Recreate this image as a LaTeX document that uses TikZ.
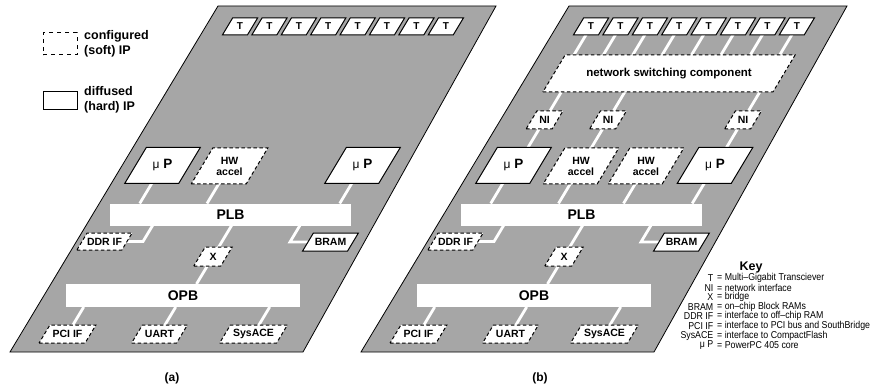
\documentclass[tikz,border=0pt]{standalone}
\usepackage{fontspec}
\setmainfont{Liberation Sans}
\newfontfamily\keyfont[FakeStretch=0.88]{Liberation Sans}
\usetikzlibrary{calc}
\pgfdeclarelayer{panel}
\pgfdeclarelayer{wires}
\pgfdeclarelayer{boxes}
\pgfsetlayers{panel,wires,boxes,main}
\definecolor{boardgray}{RGB}{166,166,166}
\newcommand\linkwire[2]{\draw[wire] let \p1=(#1), \p2=(#2) in (\p1) -- ({\x1-0.6*(\y1-\y2)},\y2);}
% \pbox[node options]{outline style}{name}{x}{y}{edge width}{height}{text}
\newcommand\pbox[8][]{%
  \node[boxtext,#1,minimum width=#6,minimum height=#7] (#3) at ({#4},{#5}) {#8};
  \begin{pgfonlayer}{boxes}
  \draw[#2] ([xshift={-0.3*#7}]#3.south west) -- ([xshift={-0.3*#7}]#3.south east)
     -- ([xshift={0.3*#7}]#3.north east) -- ([xshift={0.3*#7}]#3.north west) -- cycle;
  \end{pgfonlayer}}
\begin{document}
\begin{tikzpicture}[x=1pt,y=-1pt,
  boxtext/.style={inner sep=0pt, outer sep=0pt, align=center, font=\bfseries\fontsize{10.5}{11}\selectfont},
  hard/.style={draw=black, fill=white, line width=1pt, line join=miter},
  soft/.style={hard, dash pattern=on 3.5pt off 2.5pt},
  mup/.style={font=\bfseries\fontsize{13.5}{15}\selectfont},
  tfont/.style={font=\bfseries\fontsize{10}{10}\selectfont},
  bus/.style={fill=white, inner sep=0pt, outer sep=0pt, font=\bfseries\fontsize{14}{16}\selectfont},
  wire/.style={white, line width=2.8pt},
  board/.style={fill=boardgray, draw=black, line width=0.8pt},
  legtext/.style={anchor=west, align=left, inner sep=0pt, font=\bfseries\fontsize{12.5}{15}\selectfont},
  captext/.style={font=\bfseries\fontsize{12}{14}\selectfont},
  keyl/.style={anchor=east, inner sep=0pt, font=\keyfont\fontsize{10}{10}\selectfont},
  keyr/.style={anchor=west, inner sep=0pt, font=\keyfont\fontsize{10}{10}\selectfont},
]
\useasboundingbox (0,0) rectangle (872,390);

% boards
\begin{pgfonlayer}{panel}
\draw[board] (218,6) -- (496,6) -- (303,352) -- (10,352) -- cycle;
\draw[board] (569,6) -- (847,6) -- (654,352) -- (361,352) -- cycle;
\end{pgfonlayer}

% legend
\node[draw=black, line width=1pt, dash pattern=on 4pt off 4pt, minimum width=34, minimum height=22, inner sep=0pt] (softkey) at (60,44) {};
\node[legtext] (softtxt) at (84,44) {configured\\(soft) IP};
\node[draw=black, line width=1pt, minimum width=34, minimum height=18, inner sep=0pt] (hardkey) at (60,101) {};
\node[legtext] (hardtxt) at (84,100) {diffused\\(hard) IP};

% ---------------- panel (a)
\foreach \k in {0,...,7}{\pbox[tfont]{hard}{ta\k}{240+29.4*\k}{26.5}{25}{17}{T}}
\pbox[mup]{hard}{mua1}{162.5}{165.5}{54}{36}{{\mdseries\fontsize{12}{14}\selectfont μ} P}
\pbox{soft}{hwa}{229.5}{166}{55}{36}{HW\\accel}
\pbox[mup]{hard}{mua2}{362.5}{165.5}{54}{36}{{\mdseries\fontsize{12}{14}\selectfont μ} P}
\node[bus, minimum width=241, minimum height=22] (plba) at (230.5,214.5) {PLB};
\pbox{soft}{ddra}{104.5}{241.5}{45}{17}{DDR IF}
\pbox{hard}{brama}{330.5}{242}{45}{18}{BRAM}
\pbox{soft}{xa}{213}{256.5}{27}{19}{X}
\node[bus, minimum width=234, minimum height=23] (opba) at (183,295.5) {OPB};
\pbox{soft}{pcia}{67.5}{334}{46}{18}{PCI IF}
\pbox{soft}{uarta}{159.5}{334}{45}{18}{UART}
\pbox{soft}{sysa}{253.5}{334}{57}{18}{SysACE}

% ---------------- panel (b)
\foreach \k in {0,...,7}{\pbox[tfont]{hard}{tb\k}{591+29.4*\k}{26.5}{25}{17}{T}}
\pbox[font=\bfseries\fontsize{11.5}{12}\selectfont]{soft}{nsc}{669}{73.5}{230}{37}{network switching component}
\pbox{soft}{ni1}{544.5}{120}{26}{18}{NI}
\pbox{soft}{ni2}{608}{120}{26}{18}{NI}
\pbox{soft}{ni3}{743}{120}{26}{18}{NI}
\pbox[mup]{hard}{mub1}{513.5}{165.5}{54}{36}{{\mdseries\fontsize{12}{14}\selectfont μ} P}
\pbox{soft}{hwb1}{581}{166}{54}{36}{HW\\accel}
\pbox{soft}{hwb2}{646}{166}{54}{36}{HW\\accel}
\pbox[mup]{hard}{mub2}{715}{165.5}{54}{36}{{\mdseries\fontsize{12}{14}\selectfont μ} P}
\node[bus, minimum width=241, minimum height=22] (plbb) at (581.5,214.5) {PLB};
\pbox{soft}{ddrb}{455.5}{241.5}{45}{17}{DDR IF}
\pbox{hard}{bramb}{681.5}{242}{45}{18}{BRAM}
\pbox{soft}{xb}{564}{256.5}{27}{19}{X}
\node[bus, minimum width=234, minimum height=23] (opbb) at (534,295.5) {OPB};
\pbox{soft}{pcib}{418.5}{334}{46}{18}{PCI IF}
\pbox{soft}{uartb}{510.5}{334}{45}{18}{UART}
\pbox{soft}{sysb}{604.5}{334}{57}{18}{SysACE}

% captions
\node[captext] (capa) at (172,378) {(a)};
\node[captext] (capb) at (540,378) {(b)};

% key
\node[font=\bfseries\fontsize{12.5}{14}\selectfont, inner sep=0pt] (keyhead) at (751,267.5) {Key};
\foreach \lab/\txt [count=\i from 0] in {T/Multi–Gigabit Transciever, NI/network interface, X/bridge,
  BRAM/on–chip Block RAMs, DDR IF/interface to off–chip RAM, PCI IF/interface to PCI bus and SouthBridge,
  SysACE/interface to CompactFlash, μ P/PowerPC 405 core}{
  \node[keyl] (kl\i) at (713.5,{278+9.6*\i}) {\lab};
  \node[keyr] (kr\i) at (717,{278+9.6*\i}) {= \txt};
}

% wires (below the boxes; they start at box centres and leave through the middle of a side)
\begin{pgfonlayer}{wires}
\foreach \q in {mua1,hwa,mua2} {\linkwire{\q.center}{plba.north}}
\linkwire{xa.center}{plba.south}
\linkwire{xa.center}{opba.north}
\foreach \q in {pcia,uarta,sysa} {\linkwire{\q.center}{opba.south}}
\draw[wire] let \p1=(ddra.east), \p2=(plba.south) in (\p1) -- ++(16,0) -- ({\x1+16pt-0.6*(\y1-\y2)},\y2);
\draw[wire] let \p1=(brama.west), \p2=(plba.south) in (\p1) -- ++(-18,0) -- ({\x1-18pt-0.6*(\y1-\y2)},\y2);

\foreach \k in {0,...,7} {\linkwire{tb\k.center}{nsc.north}}
\foreach \q in {ni1,ni2,ni3} {\linkwire{\q.center}{nsc.south}}
\linkwire{ni1.center}{mub1.north}
\linkwire{ni2.center}{hwb1.north}
\linkwire{ni3.center}{mub2.north}
\foreach \q in {mub1,hwb1,hwb2,mub2} {\linkwire{\q.center}{plbb.north}}
\linkwire{xb.center}{plbb.south}
\linkwire{xb.center}{opbb.north}
\foreach \q in {pcib,uartb,sysb} {\linkwire{\q.center}{opbb.south}}
\draw[wire] let \p1=(ddrb.east), \p2=(plbb.south) in (\p1) -- ++(16,0) -- ({\x1+16pt-0.6*(\y1-\y2)},\y2);
\draw[wire] let \p1=(bramb.west), \p2=(plbb.south) in (\p1) -- ++(-18,0) -- ({\x1-18pt-0.6*(\y1-\y2)},\y2);
\end{pgfonlayer}
\end{tikzpicture}
\end{document}
